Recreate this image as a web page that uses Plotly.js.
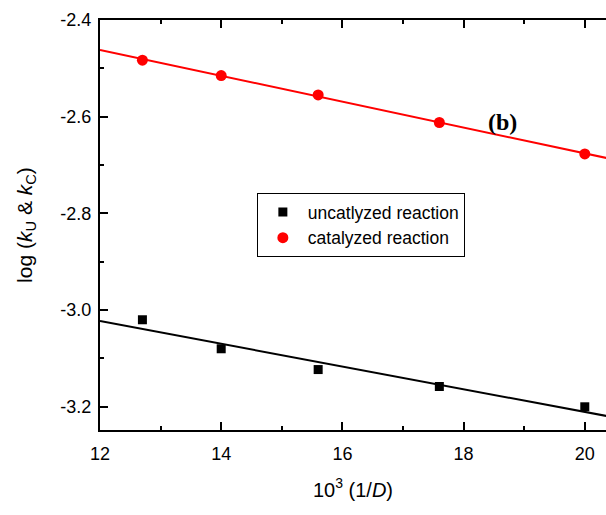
<!DOCTYPE html>
<html><head><meta charset="utf-8">
<script src="https://cdn.plot.ly/plotly-3.0.1.min.js"></script>
<style>body{margin:0;padding:0;background:#fff}#plot{width:606px;height:515px}</style>
</head><body><div id="plot"></div>
<script>
const xInvD = [12.7, 14.0, 15.6, 17.6, 20.0];
const logKU = [-3.020, -3.080, -3.123, -3.158, -3.200];
const logKC = [-2.483, -2.515, -2.555, -2.612, -2.677];
const seriesNames = ['uncatlyzed reaction', 'catalyzed reaction'];
const xTicks = [12, 14, 16, 18, 20];
const xMinorTicks = [13, 15, 17, 19];
const yTicks = [-3.2, -3.0, -2.8, -2.6, -2.4];
const yMinorTicks = [-3.1, -2.9, -2.7, -2.5];
const fitRange = [12, 20.4];
const xRange = [12, 20.35];
const yRange = [-3.248, -2.4];

function linfit(x, y) {
  const n = x.length;
  const mx = x.reduce((a, b) => a + b, 0) / n;
  const my = y.reduce((a, b) => a + b, 0) / n;
  let sxy = 0, sxx = 0;
  for (let i = 0; i < n; i++) { sxy += (x[i] - mx) * (y[i] - my); sxx += (x[i] - mx) ** 2; }
  const b = sxy / sxx, a = my - b * mx;
  return fitRange.map(v => a + b * v);
}

const traces = [
  {x: fitRange, y: linfit(xInvD, logKU), mode: 'lines', line: {color: '#000', width: 2}, showlegend: false, hoverinfo: 'skip'},
  {x: fitRange, y: linfit(xInvD, logKC), mode: 'lines', line: {color: '#ff0000', width: 2}, showlegend: false, hoverinfo: 'skip'},
  {x: xInvD, y: logKU, mode: 'markers', name: seriesNames[0], marker: {symbol: 'square', size: 9, color: '#000'}},
  {x: xInvD, y: logKC, mode: 'markers', name: seriesNames[1], marker: {symbol: 'circle', size: 11, color: '#ff0000'}}
];

const FF = 'Arial, Liberation Sans, sans-serif';
const axisFont = {family: FF, size: 18, color: '#000'};
const line = {showgrid: false, zeroline: false, showline: true, linecolor: '#000', linewidth: 2};
const tickAx = (vals, len, extra) => Object.assign({}, line, {
  tickmode: 'array', tickvals: vals, ticks: 'inside', ticklen: len, tickwidth: 2, tickcolor: '#000',
  showticklabels: false
}, extra);

const layout = {
  width: 606, height: 515,
  margin: {l: 100, r: 0, t: 20, b: 85},
  paper_bgcolor: '#fff', plot_bgcolor: '#fff',
  font: {family: FF, color: '#000'},
  showlegend: true,
  xaxis: Object.assign({}, line, {
    range: xRange, tickmode: 'array', tickvals: xTicks, ticktext: xTicks.map(String),
    ticks: 'outside', ticklen: 6, tickcolor: 'rgba(0,0,0,0)', mirror: true, tickfont: axisFont,
    title: {text: '10<sup>3</sup> (1/<i>D</i>)', font: {family: FF, size: 20, color: '#000'}, standoff: 20}
  }),
  xaxis2: tickAx(xTicks, 8, {range: xRange, overlaying: 'x', anchor: 'y', side: 'bottom', mirror: 'ticks'}),
  xaxis3: tickAx(xMinorTicks, 4, {range: xRange, overlaying: 'x', anchor: 'y', side: 'bottom', mirror: 'ticks'}),
  yaxis: Object.assign({}, line, {
    range: yRange, tickmode: 'array', tickvals: yTicks, ticktext: yTicks.map(v => v.toFixed(1)),
    ticks: 'outside', ticklen: 3, tickcolor: 'rgba(0,0,0,0)', tickfont: axisFont,
    title: {text: 'log (<i>k</i><sub>U</sub> & <i>k</i><sub>C</sub>)', font: {family: FF, size: 21, color: '#000'}, standoff: 22}
  }),
  yaxis2: tickAx(yTicks, 8, {range: yRange, overlaying: 'y', anchor: 'x', side: 'left'}),
  yaxis3: tickAx(yMinorTicks, 4, {range: yRange, overlaying: 'y', anchor: 'x', side: 'left'}),
  legend: {
    x: 0.31, y: 0.578, xanchor: 'left', yanchor: 'top',
    bgcolor: '#fff', bordercolor: '#000', borderwidth: 1,
    font: {family: FF, size: 17.5, color: '#000'},
    itemwidth: 40, tracegroupgap: 0
  },
  annotations: [{
    x: 18.65, y: -2.611, xref: 'x', yref: 'y', text: '<b>(b)</b>', showarrow: false,
    font: {family: 'Liberation Serif, Times New Roman, serif', size: 24, color: '#000'}
  }]
};

// invisible helper traces so the tick-only overlay axes are drawn
const helper = (xa, ya) => ({x: [xRange[0]], y: [yRange[0]], xaxis: xa, yaxis: ya, mode: 'markers', marker: {opacity: 0}, showlegend: false, hoverinfo: 'skip'});
traces.push(helper('x2', 'y2'), helper('x3', 'y3'));

Plotly.newPlot('plot', traces, layout, {displayModeBar: false});
</script></body></html>
